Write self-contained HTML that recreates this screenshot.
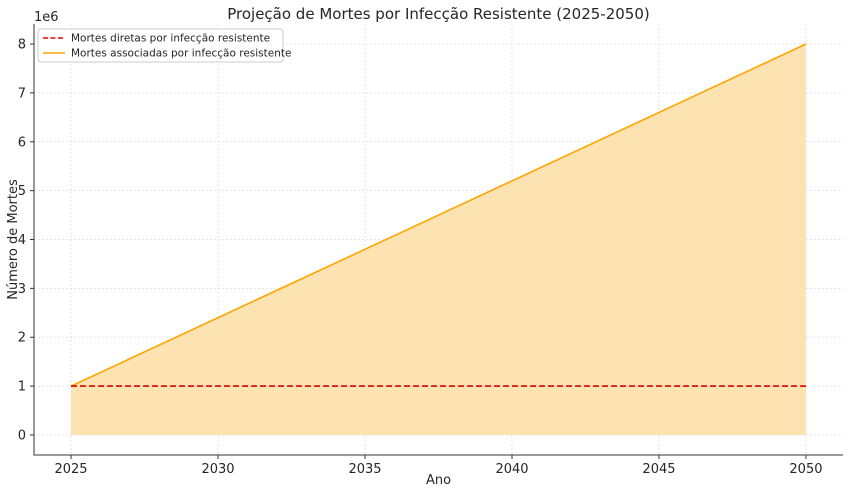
<!DOCTYPE html>
<html><head><meta charset="utf-8"><style>
body{margin:0;background:#fff;font-family:"Liberation Sans","DejaVu Sans",sans-serif}
svg text{font-family:"DejaVu Sans","Liberation Sans",sans-serif;fill:#262626}
</style></head><body>
<svg id="c" width="850" height="493"></svg>
<script>
const years=[2025,2050];
const directDeaths=[1.0,1.0];
const associatedDeaths=[1.0,8.0];
const xTicks=[2025,2030,2035,2040,2045,2050];
const yTicks=[0,1,2,3,4,5,6,7,8];
const L=34,R=843,T=24,B=455;
const xMin=2023.74,xMax=2051.26,yMin=-0.41,yMax=8.41;
const X=v=>L+(v-xMin)/(xMax-xMin)*(R-L);
const Y=v=>B-(v-yMin)/(yMax-yMin)*(B-T);
const svg=document.getElementById('c');
const NS='http://www.w3.org/2000/svg';
function mk(t,a,txt){const e=document.createElementNS(NS,t);for(const k in a)e.setAttribute(k,a[k]);if(txt!=null)e.textContent=txt;svg.appendChild(e);return e;}
// grid
xTicks.forEach(v=>{
const g=mk('line',{x1:X(v),x2:X(v),y1:T,y2:B,stroke:'#ddd','stroke-dasharray':'2,2','stroke-width':0.8});


const t=mk('line',{x1:X(v),x2:X(v),y1:B,y2:B+4,stroke:'#333'});


const l=mk('text',{x:X(v),y:B+18,'text-anchor':'middle','font-size':13},v);


});
yTicks.forEach(v=>{
const g=mk('line',{x1:L,x2:R,y1:Y(v),y2:Y(v),stroke:'#ddd','stroke-dasharray':'2,2','stroke-width':0.8});


const t=mk('line',{x1:L-4,x2:L,y1:Y(v),y2:Y(v),stroke:'#333'});


const l=mk('text',{x:L-8,y:Y(v)+4.5,'text-anchor':'end','font-size':13},v);


});
// fill area
let d='M'+X(years[0])+','+Y(0);
years.forEach((y,i)=>d+=' L'+X(y)+','+Y(associatedDeaths[i]));
d+=' L'+X(years[years.length-1])+','+Y(0)+' Z';
const area=mk('path',{d:d,fill:'#fde2b2'});


const pts=a=>years.map((y,i)=>X(y)+','+Y(a[i])).join(' ');
const l1=mk('polyline',{points:pts(associatedDeaths),fill:'none',stroke:'#ffa500','stroke-width':1.6});


const l2=mk('polyline',{points:pts(directDeaths),fill:'none',stroke:'#e00000','stroke-width':1.6,'stroke-dasharray':'6,3'});


// spines
const ax=mk('path',{d:`M${L},${T} L${L},${B} L${R},${B}`,fill:'none',stroke:'#333','stroke-width':1});


const ti=mk('text',{x:(L+R)/2,y:19,'text-anchor':'middle','font-size':15},'Projeção de Mortes por Infecção Resistente (2025-2050)');


const xt=mk('text',{x:(L+R)/2,y:484,'text-anchor':'middle','font-size':13},'Ano');


const yt=mk('text',{x:17,y:(T+B)/2,'text-anchor':'middle','font-size':13,transform:`rotate(-90 17 ${(T+B)/2})`},'Número de Mortes');


const off=mk('text',{x:34,y:21,'font-size':13},'1e6');


// legend
const lb=mk('rect',{x:38,y:29,width:245,height:33,rx:3,fill:'#fff','fill-opacity':0.85,stroke:'#ccc'});


const s1=mk('line',{x1:43,x2:65,y1:38,y2:38,stroke:'#e00000','stroke-width':1.6,'stroke-dasharray':'5,2.5'});


const t1=mk('text',{x:71,y:41.5,'font-size':10.5},'Mortes diretas por infecção resistente');


const s2=mk('line',{x1:43,x2:65,y1:53,y2:53,stroke:'#ffa500','stroke-width':1.6});


const t2=mk('text',{x:71,y:56.5,'font-size':10.5},'Mortes associadas por infecção resistente');


</script>
</body></html>
